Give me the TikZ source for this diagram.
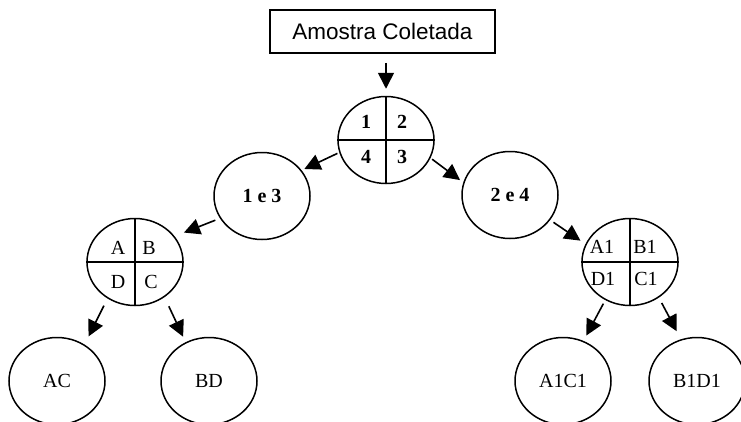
\documentclass[tikz,border=0pt]{standalone}
\usepackage{fontspec}
\setmainfont{Liberation Serif}
\newfontfamily\boxfont{Liberation Sans}
\usetikzlibrary{shapes.geometric,arrows.meta}
\begin{document}
\begin{tikzpicture}[x=1pt,y=-1pt,
  ell/.style={draw,ellipse,line width=1.5pt,minimum width=96pt,minimum height=87pt,inner sep=0pt,font=\fontsize{20}{24}\selectfont},
  lbl/.style={font=\fontsize{20}{24}\selectfont,inner sep=0pt},
  blbl/.style={font=\fontsize{20}{24}\selectfont\bfseries,inner sep=0pt},
  arr/.style={line width=1.6pt,-{Triangle[length=16pt,width=16pt]}},
  quad/.style={line width=1.5pt}]
\useasboundingbox (0,0) rectangle (741,421);
% title box
\node[draw,line width=1.5pt,minimum width=225pt,minimum height=43pt,inner sep=0pt,
      font=\boxfont\fontsize{22.5}{27}\selectfont] (box) at (382.5,31.5) {Amostra Coletada};
% top quartered circle
\node[ell] (top) at (386,140) {};
\draw[quad] (top.north) -- (top.south) (top.west) -- (top.east);
\node[blbl] (t1) at (366,122) {1};
\node[blbl] (t2) at (402,122) {2};
\node[blbl] (t4) at (366,157) {4};
\node[blbl] (t3) at (402,157) {3};
% second level
\node[ell,font=\fontsize{20}{24}\selectfont\bfseries] (c13) at (262,196) {1 e 3};
\node[ell,font=\fontsize{20}{24}\selectfont\bfseries] (c24) at (510,195) {2 e 4};
% ABCD circle
\node[ell] (abcd) at (135,262) {};
\draw[quad] (abcd.north) -- (abcd.south) (abcd.west) -- (abcd.east);
\node[lbl] (la) at (118,248) {A};
\node[lbl] (lb) at (149,248) {B};
\node[lbl] (ld) at (118,282) {D};
\node[lbl] (lc) at (151,282) {C};
% A1B1 circle
\node[ell] (a1) at (630,262) {};
\draw[quad] (a1.north) -- (a1.south) (a1.west) -- (a1.east);
\node[lbl] (la1) at (602,247) {A1};
\node[lbl] (lb1) at (645,247) {B1};
\node[lbl] (ld1) at (603,279) {D1};
\node[lbl] (lc1) at (646,279) {C1};
% bottom circles
\node[ell] (ac) at (57,381) {AC};
\node[ell] (bd) at (209,381) {BD};
\node[ell] (a1c1) at (563,381) {A1C1};
\node[ell] (b1d1) at (697,381) {B1D1};
% arrows
\draw[arr,shorten <=9pt,shorten >=7pt] (box.south -| top.north) -- (top.north);
\draw[arr,shorten <=2pt,shorten >=3pt] (top.195) -- (c13.33);
\draw[arr,shorten <=2pt,shorten >=4pt] (top.-22) -- (c24.165);
\draw[arr,shorten <=5pt,shorten >=10pt] (c13.208) -- (abcd.33);
\draw[arr,shorten <=4pt,shorten >=6pt] (c24.-32) -- (a1.158);
\draw[arr,shorten <=8pt,shorten >=9pt] (abcd.233) -- (ac.53);
\draw[arr,shorten <=10pt,shorten >=6pt] (abcd.-50) -- (bd.121);
\draw[arr,shorten <=4pt,shorten >=6pt] (a1.237) -- (a1c1.63);
\draw[arr,shorten <=6pt,shorten >=9pt] (a1.-51) -- (b1d1.111);
\end{tikzpicture}
\end{document}
